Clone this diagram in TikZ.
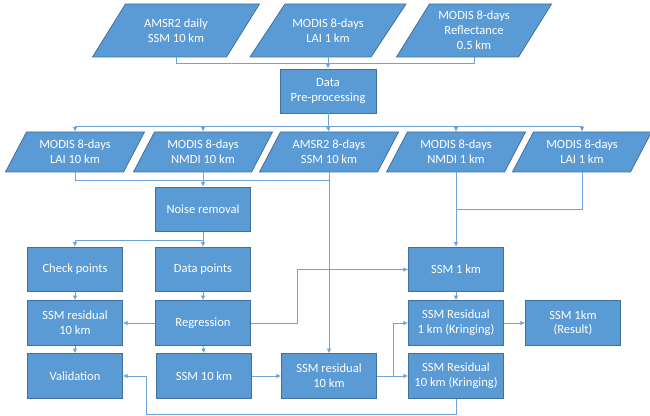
\documentclass[tikz,border=0pt]{standalone}
\usepackage{fontspec}
\setmainfont{Carlito}
\usetikzlibrary{arrows.meta}
\definecolor{boxfill}{HTML}{5B9BD5}
\definecolor{boxline}{HTML}{41719C}
\definecolor{conn}{HTML}{6FA4D8}
\tikzset{
  pshape/.style={draw=boxline, fill=boxfill, line width=0.6pt},
  ntext/.style={text=white, align=center, inner sep=0pt, font=\fontsize{9.4}{11.2}\selectfont},
  procbox/.style={draw=boxline, fill=boxfill, line width=0.6pt, text=white, align=center, inner sep=0pt,
    minimum width=71.25pt, minimum height=33.5pt, font=\fontsize{9.4}{11.2}\selectfont},
  cline/.style={draw=conn, line width=0.6pt},
  carrow/.style={cline, -{Latex[length=3.5pt,width=3.5pt]}}
}
\newcommand\pgram[7]{%
  \filldraw[pshape] ({#2-#4/2-#6/2},{#3+#5/2}) -- ({#2+#4/2-#6/2},{#3+#5/2}) -- ({#2+#4/2+#6/2},{#3-#5/2}) -- ({#2-#4/2+#6/2},{#3-#5/2}) -- cycle;
  \node[ntext, minimum width={(#4-#6)*0.75pt}, minimum height={#5*0.75pt}] (#1) at (#2,#3) {#7};}
\begin{document}
\begin{tikzpicture}[x=0.75pt, y=-0.75pt]
\useasboundingbox (0,0) rectangle (650,416);
% top row
\pgram{t1}{176}{30.5}{134}{53}{33}{AMSR2 daily\\SSM 10 km}
\pgram{t2}{328}{30.5}{121}{53}{35}{MODIS 8-days\\LAI 1 km}
\pgram{t3}{474}{30.5}{122}{53}{33}{MODIS 8-days\\Reflectance\\0.5 km}
\node[procbox, minimum width=72pt, minimum height=33pt] (data) at (328,91) {Data\\Pre-processing};
% second row
\pgram{m1}{75}{152}{118}{40}{21}{MODIS 8-days\\LAI 10 km}
\pgram{m2}{203}{152}{118}{40}{21}{MODIS 8-days\\NMDI 10 km}
\pgram{m3}{329}{152}{118}{40}{21}{AMSR2 8-days\\SSM 10 km}
\pgram{m4}{456}{152}{118}{40}{21}{MODIS 8-days\\NMDI 1 km}
\pgram{m5}{582}{152}{118}{40}{21}{MODIS 8-days\\LAI 1 km}
% boxes
\node[procbox] (noise) at (203,209.5) {Noise removal};
\node[procbox] (check) at (75,269.5) {Check points};
\node[procbox] (datap) at (203,269.5) {Data points};
\node[procbox] (ssm1) at (456,269.5) {SSM 1 km};
\node[procbox] (resid) at (75,323) {SSM residual\\10 km};
\node[procbox] (regr) at (203,323) {Regression};
\node[procbox] (res1) at (456,323) {SSM Residual\\1 km (Kringing)};
\node[procbox] (result) at (573,323) {SSM 1km\\(Result)};
\node[procbox] (valid) at (75,376) {Validation};
\node[procbox] (ssm10) at (204,376) {SSM 10 km};
\node[procbox] (res10) at (329,376) {SSM residual\\10 km};
\node[procbox] (res10k) at (456,376) {SSM Residual\\10 km (Kringing)};
% helper coordinates
\coordinate (j1) at (328,63);
\coordinate (j2) at (328,126);
\coordinate (j3) at (203,180);
\coordinate (j5) at (456,209);
\coordinate (j4) at (203,240);
\coordinate (k1) at (297,0);
\coordinate (k2) at (393,0);
\coordinate (k3) at (146,414);
% connectors top
\draw[cline] (t1.south) |- (j1);
\draw[cline] (t3.south) |- (j1);
\draw[carrow] (t2.south) -- (data.north);
\draw[cline] (data.south) -- (j2);
\foreach \m in {m1,m2,m4,m5} \draw[carrow] (j2) -| (\m.north);
\draw[carrow] (j2) -- (m3.north);
% second row down
\draw[cline] (m1.south) |- (m3.south |- j3);
\draw[carrow] (m2.south) -- (noise.north);
\draw[carrow] (m3.south) -- (res10.north);
\draw[cline] (m5.south) |- (j5);
\draw[carrow] (m4.south) -- (ssm1.north);
% noise split
\draw[carrow] (noise.south) -- (datap.north);
\draw[carrow] (j4) -| (check.north);
% left column
\draw[carrow] (check.south) -- (resid.north);
\draw[carrow] (resid.south) -- (valid.north);
\draw[carrow] (regr.west) -- (resid.east);
\draw[carrow] (datap.south) -- (regr.north);
\draw[carrow] (regr.south) -- (ssm10.north);
\draw[carrow] (regr.east) -- (regr.east -| k1) -- (ssm1.west -| k1) -- (ssm1.west);
\draw[carrow] (ssm1.south) -- (res1.north);
\draw[carrow] (res1.east) -- (result.west);
\draw[carrow] (ssm10.east) -- (res10.west);
\draw[carrow] (res10.east) -- (res10k.west);
\draw[carrow] (res10.east -| k2) |- (res1.west);
\draw[carrow] (res10k.south) |- (k3) |- (valid.east);
\end{tikzpicture}
\end{document}
